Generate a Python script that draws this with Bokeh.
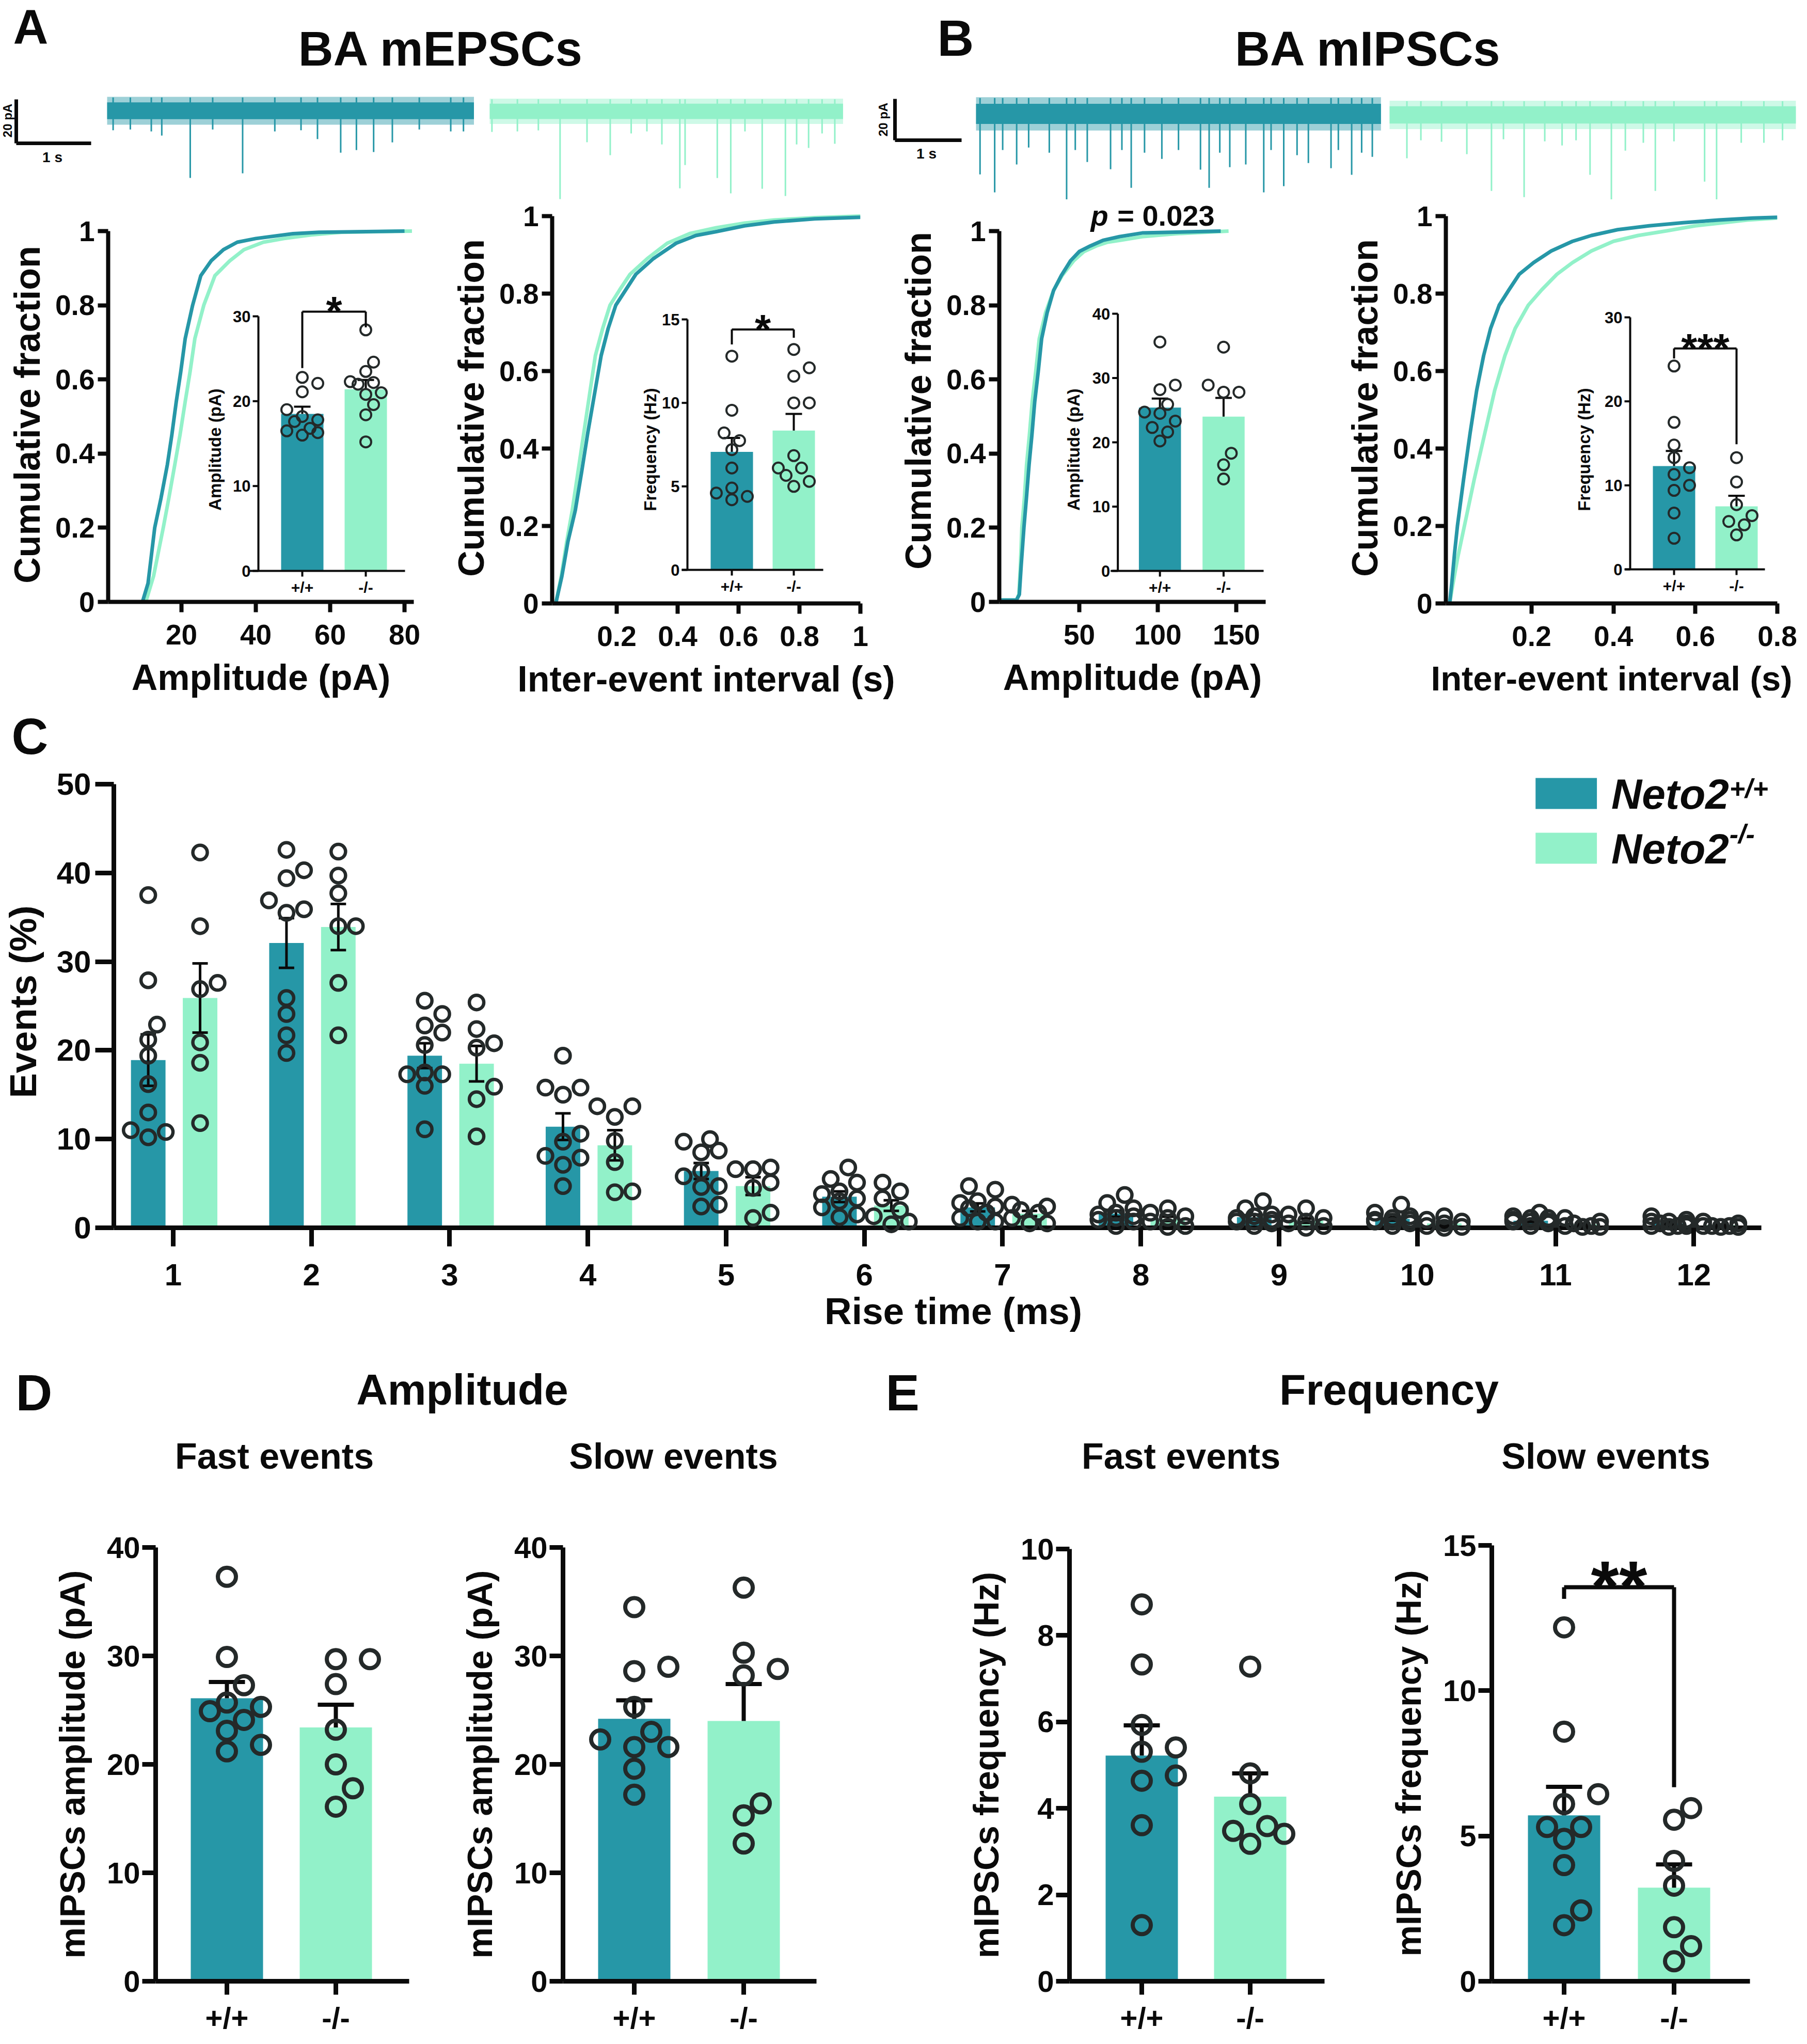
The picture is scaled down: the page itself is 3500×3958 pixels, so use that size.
import math
from bokeh.plotting import figure
from bokeh.models import Range1d, FixedTicker
from bokeh.layouts import column, row
from bokeh.embed import file_html
from bokeh.resources import INLINE
from bokeh.core.properties import value

FONT = "Liberation Sans"
FV = value(FONT)
WT = "#2697A7"
KO = "#92F1C9"
INK = "#0a0a0a"
DOT = "#242929"

# ======================= DATA =======================
genotypes = ["+/+", "-/-"]

# ---- example traces: event times (s) and amplitudes (pA) ----
mepsc_wt_dur = 4.9
mepsc_wt_band = 5.5
mepsc_wt_t = [0.08, 0.31, 0.59, 0.73, 1.11, 1.41, 1.81, 2.24, 2.59, 2.81, 3.12, 3.33, 3.56, 3.81, 4.17, 4.59, 4.76]
mepsc_wt_a = [8.9, 8.5, 9.4, 11.3, 30.6, 8.5, 28.5, 9.4, 8.9, 12.9, 19.1, 17.9, 18.8, 14.4, 8.5, 9.4, 9.4]
mepsc_ko_dur = 4.72
mepsc_ko_band = 5.0
mepsc_ko_t = [0.03, 0.37, 0.65, 0.94, 1.30, 1.61, 1.89, 2.10, 2.30, 2.54, 2.61, 3.04, 3.22, 3.41, 3.64, 3.95, 4.10, 4.26, 4.44, 4.61]
mepsc_ko_a = [9.4, 9.2, 8.7, 40.0, 14.1, 20.0, 10.1, 9.2, 15.1, 35.1, 24.5, 30.4, 37.4, 9.2, 35.3, 38.6, 15.1, 16.7, 10.1, 14.8]
mipsc_wt_dur = 6.08
mipsc_wt_band = 7.0
mipsc_wt_t = [0.06, 0.28, 0.40, 0.61, 0.79, 1.10, 1.36, 1.49, 1.67, 2.02, 2.19, 2.33, 2.53, 2.79, 3.04, 3.37, 3.50, 3.66,
              3.81, 4.05, 4.32, 4.43, 4.62, 4.82, 4.99, 5.33, 5.44, 5.64, 5.79, 5.95]
mipsc_wt_a = [29.3, 38.0, 17.5, 24.5, 16.3, 18.8, 48.0, 17.5, 23.3, 26.8, 17.5, 35.8, 18.8, 21.8, 17.5, 27.0, 35.8, 18.8,
              25.8, 24.5, 38.0, 17.5, 35.0, 20.0, 23.8, 26.3, 17.5, 29.5, 18.8, 20.8]
mipsc_ko_dur = 6.1
mipsc_ko_band = 6.0
mipsc_ko_t = [0.26, 0.47, 0.78, 1.16, 1.53, 1.71, 2.02, 2.33, 2.59, 2.80, 3.01, 3.33, 3.54, 3.81, 3.99, 4.27, 4.73, 4.91,
              5.28, 5.62, 5.90]
mipsc_ko_a = [21.0, 12.3, 13.0, 19.0, 36.8, 11.8, 39.8, 12.8, 14.8, 12.3, 29.0, 45.3, 17.3, 13.5, 36.8, 12.8, 32.3, 41.0,
              13.5, 13.5, 12.3]
scale_pA = 20
scale_s = 1

# ---- cumulative distributions ----
a_amp_wt_x = [0, 9.5, 11, 12.8, 14.5, 16.2, 17.4, 18.6, 19.8, 21, 23, 25.2, 28, 31.3, 35, 40, 50, 57, 80]
a_amp_wt_y = [0, 0, 0.05, 0.2, 0.28, 0.37, 0.45, 0.54, 0.62, 0.71, 0.8, 0.88, 0.92, 0.95, 0.97, 0.98, 0.993, 0.997, 1.0]
a_amp_ko_x = [0, 10.4, 12.5, 15.1, 16.6, 18.2, 19.6, 21, 22.3, 23.6, 26, 29, 33, 36.8, 42, 47.6, 55, 63, 82]
a_amp_ko_y = [0, 0, 0.07, 0.2, 0.28, 0.37, 0.45, 0.54, 0.62, 0.71, 0.8, 0.88, 0.92, 0.95, 0.97, 0.98, 0.99, 0.997, 1.0]
a_iei_wt_x = [0, 0.02, 0.04, 0.064, 0.085, 0.105, 0.127, 0.149, 0.172, 0.197, 0.23, 0.263, 0.32, 0.395, 0.46, 0.527, 0.62, 0.717, 0.85, 1.0]
a_iei_wt_y = [0, 0.07, 0.16, 0.24, 0.34, 0.44, 0.54, 0.64, 0.71, 0.77, 0.81, 0.85, 0.89, 0.93, 0.95, 0.96, 0.975, 0.985, 0.993, 0.997]
a_iei_ko_x = [0, 0.018, 0.036, 0.054, 0.073, 0.092, 0.111, 0.13, 0.154, 0.178, 0.21, 0.244, 0.3, 0.366, 0.44, 0.527, 0.62, 0.717, 0.85, 1.0]
a_iei_ko_y = [0, 0.07, 0.16, 0.24, 0.34, 0.44, 0.54, 0.64, 0.71, 0.77, 0.81, 0.85, 0.89, 0.93, 0.955, 0.97, 0.982, 0.99, 0.996, 1.0]
b_amp_wt_x = [0, 10, 11.8, 13, 14.7, 16.3, 18, 19.8, 21.6, 23.8, 26, 29.5, 33.6, 38.5, 44.4, 50, 57, 65, 75.5, 90, 140]
b_amp_wt_y = [0.005, 0.005, 0.02, 0.1, 0.2, 0.28, 0.37, 0.45, 0.54, 0.62, 0.71, 0.78, 0.84, 0.88, 0.92, 0.945, 0.96, 0.975, 0.985, 0.995, 1.0]
b_amp_ko_x = [0, 10, 11.5, 12.5, 13.4, 15, 16.4, 18.2, 20, 22.2, 24.5, 28.5, 33.6, 39, 46.4, 53, 60.8, 68, 75.5, 90, 112, 145]
b_amp_ko_y = [0.005, 0.005, 0.02, 0.1, 0.2, 0.28, 0.37, 0.45, 0.54, 0.62, 0.71, 0.78, 0.84, 0.88, 0.92, 0.945, 0.96, 0.97, 0.975, 0.985, 0.993, 1.0]
b_iei_wt_x = [0, 0.005, 0.012, 0.019, 0.034, 0.05, 0.066, 0.083, 0.1, 0.121, 0.145, 0.17, 0.205, 0.248, 0.3, 0.346, 0.41, 0.487, 0.57, 0.657, 0.74, 0.8]
b_iei_wt_y = [0, 0.05, 0.13, 0.2, 0.32, 0.44, 0.55, 0.64, 0.71, 0.77, 0.81, 0.85, 0.88, 0.91, 0.935, 0.95, 0.965, 0.975, 0.983, 0.99, 0.995, 0.997]
b_iei_ko_x = [0, 0.008, 0.02, 0.036, 0.06, 0.086, 0.11, 0.135, 0.16, 0.192, 0.225, 0.262, 0.3, 0.346, 0.4, 0.46, 0.53, 0.6, 0.66, 0.727, 0.8]
b_iei_ko_y = [0, 0.05, 0.12, 0.2, 0.32, 0.44, 0.55, 0.64, 0.71, 0.77, 0.81, 0.85, 0.88, 0.91, 0.935, 0.95, 0.962, 0.975, 0.982, 0.99, 0.995]

# ---- insets: per-cell values, means, SEM ----
ins_a_amp_wt = [22.8, 22.1, 21.1, 19.0, 18.2, 17.8, 17.6, 16.8, 16.5, 16.3, 16.0]
ins_a_amp_ko = [28.4, 24.6, 23.5, 22.3, 22.2, 22.0, 21.0, 20.8, 19.6, 18.4, 15.2]
ins_a_amp_mean = [18.5, 21.4]
ins_a_amp_sem = [0.85, 1.1]
ins_a_freq_wt = [12.8, 9.56, 8.2, 7.74, 7.2, 6.1, 4.9, 4.6, 4.4, 4.2]
ins_a_freq_ko = [13.2, 12.1, 11.6, 10.0, 10.0, 6.84, 6.1, 6.1, 5.66, 5.3, 5.0]
ins_a_freq_mean = [7.07, 8.34]
ins_a_freq_sem = [0.83, 1.0]
ins_b_amp_wt = [35.6, 28.9, 28.2, 25.9, 24.5, 24.7, 23.3, 22.3, 21.6, 20.2]
ins_b_amp_ko = [34.8, 28.9, 27.8, 27.8, 18.3, 16.5, 14.3]
ins_b_amp_mean = [25.4, 24.0]
ins_b_amp_sem = [1.4, 2.9]
ins_b_freq_wt = [24.2, 17.5, 14.8, 13.3, 12.1, 11.3, 10.0, 9.4, 6.7, 3.7]
ins_b_freq_ko = [13.3, 10.4, 7.7, 6.4, 5.7, 5.3, 4.1]
ins_b_freq_mean = [12.3, 7.5]
ins_b_freq_sem = [1.8, 1.26]

# ---- C: rise-time distribution (%) ----
rise_cats = [1, 2, 3, 4, 5, 6, 7, 8, 9, 10, 11, 12]
c_wt_mean = [18.9, 32.1, 19.4, 11.4, 6.4, 3.5, 2.3, 1.6, 1.2, 1.0, 0.8, 0.5]
c_ko_mean = [25.9, 33.9, 18.5, 9.3, 4.7, 2.5, 1.6, 1.0, 0.8, 0.5, 0.4, 0.3]
c_wt_sem = [2.9, 2.8, 1.4, 1.5, 0.9, 0.6, 0.45, 0.35, 0.3, 0.2, 0.15, 0.1]
c_ko_sem = [3.9, 2.6, 2.0, 1.7, 1.0, 0.6, 0.3, 0.25, 0.25, 0.15, 0.1, 0.08]
c_wt_pts = [
    [37.5, 27.9, 22.9, 21.2, 19.4, 16.2, 13.0, 11.0, 10.8, 10.2],
    [42.6, 40.3, 39.4, 36.9, 35.9, 35.5, 25.9, 24.1, 21.7, 19.7],
    [25.6, 24.1, 22.8, 22.0, 20.6, 17.5, 17.3, 17.3, 16.0, 11.1],
    [19.4, 15.8, 15.8, 15.0, 10.6, 9.7, 8.1, 7.9, 7.1, 4.7],
    [10.0, 9.7, 8.7, 8.5, 6.4, 5.8, 4.7, 4.6, 2.6, 2.4],
    [6.8, 5.5, 5.1, 4.1, 3.8, 3.3, 3.0, 2.3, 1.5, 1.2],
    [4.7, 4.3, 3.0, 2.8, 2.4, 2.2, 1.7, 1.1, 0.7, 0.7],
    [3.7, 2.8, 2.2, 1.7, 1.5, 1.3, 1.1, 0.9, 0.7, 0.2],
    [3.0, 2.2, 1.5, 1.3, 1.1, 0.9, 0.7, 0.7, 0.5, 0.2],
    [2.6, 1.7, 1.3, 1.1, 0.9, 0.9, 0.7, 0.7, 0.5, 0.2],
    [1.7, 1.3, 1.1, 1.1, 0.9, 0.7, 0.7, 0.7, 0.5, 0.2],
    [1.3, 0.9, 0.7, 0.7, 0.5, 0.5, 0.2, 0.2, 0.2, 0.1],
]
c_ko_pts = [
    [42.3, 34.0, 27.6, 26.9, 20.9, 18.6, 11.8],
    [42.4, 39.7, 37.7, 34.0, 34.0, 27.6, 21.7],
    [25.4, 22.4, 20.8, 20.3, 15.9, 14.5, 10.3],
    [13.7, 13.7, 12.5, 9.8, 7.4, 4.1, 4.0],
    [6.8, 6.6, 6.6, 5.1, 4.5, 1.7, 1.1],
    [5.1, 4.1, 3.3, 2.0, 1.3, 0.7, 0.4],
    [2.6, 2.4, 2.0, 1.7, 1.1, 0.5, 0.5],
    [2.2, 1.7, 1.3, 1.1, 0.7, 0.2, 0.1],
    [2.2, 1.5, 1.1, 0.7, 0.5, 0.2, 0.0],
    [1.3, 0.9, 0.7, 0.5, 0.2, 0.1, 0.0],
    [1.1, 0.7, 0.5, 0.2, 0.2, 0.1, 0.1],
    [0.7, 0.5, 0.2, 0.2, 0.2, 0.1, 0.1],
]

# ---- D / E: fast and slow events ----
d_fast_wt = [37.3, 29.9, 27.3, 25.7, 24.9, 25.3, 24.1, 23.1, 21.8, 21.2]
d_fast_ko = [29.7, 29.7, 27.4, 23.2, 20.0, 17.8, 16.1]
d_fast_mean = [26.1, 23.4]
d_fast_sem = [1.5, 2.1]
d_slow_wt = [34.5, 29.0, 28.6, 25.3, 22.3, 23.0, 21.6, 21.6, 19.6, 17.2]
d_slow_ko = [36.3, 30.3, 28.8, 28.2, 16.4, 15.3, 12.7]
d_slow_mean = [24.2, 24.0]
d_slow_sem = [1.7, 3.4]
e_fast_wt = [8.72, 7.33, 5.93, 5.31, 5.41, 4.64, 4.76, 3.61, 1.30]
e_fast_ko = [7.28, 4.81, 4.10, 3.59, 3.48, 3.41, 3.18]
e_fast_mean = [5.22, 4.27]
e_fast_sem = [0.70, 0.54]
e_slow_wt = [12.18, 8.59, 6.44, 6.10, 5.31, 5.31, 4.90, 4.00, 2.44, 1.93]
e_slow_ko = [5.96, 5.56, 4.14, 3.29, 1.86, 1.21, 0.69]
e_slow_mean = [5.71, 3.22]
e_slow_sem = [0.98, 0.80]


# ======================= HELPERS =======================
def lin(d0, p0, d1, p1):
    k = (d1 - d0) / (p1 - p0)
    return lambda q: d0 + (q - p0) * k


def base_fig(box, frame, xm, ym):
    fx, fy, fw, fh = box
    l, r, t, b = frame
    p = figure(width=fw, height=fh,
               x_range=Range1d(xm(l), xm(r)), y_range=Range1d(ym(b), ym(t)),
               min_border_left=l - fx, min_border_right=fx + fw - r,
               min_border_top=t - fy, min_border_bottom=fy + fh - b,
               output_backend="svg", toolbar_location=None, frame_align=False)
    p.outline_line_color = None
    p.xgrid.visible = False
    p.ygrid.visible = False
    return p


def canvas_fig(box):
    fx, fy, fw, fh = box
    p = figure(width=fw, height=fh, x_range=Range1d(fx, fx + fw), y_range=Range1d(fy + fh, fy),
               x_axis_location=None, y_axis_location=None, min_border=0,
               output_backend="svg", toolbar_location=None, frame_align=False)
    p.outline_line_color = None
    p.xgrid.visible = False
    p.ygrid.visible = False
    return p


def txt(p, x, y, s, size, align="left", base="middle", style="bold", angle=0.0, **kw):
    p.text(x=[x], y=[y], text=[s], text_font=FV, text_font_size=f"{size}px",
           text_font_style=style, text_align=align, text_baseline=base,
           angle=angle, text_color=INK, **kw)


def style_axes(p, tick_px, lab_px, lw, tout, std, lstd_x, lstd_y):
    for ax in list(p.xaxis) + list(p.yaxis):
        ax.axis_line_width = lw
        ax.axis_line_color = INK
        ax.major_tick_line_width = lw
        ax.major_tick_line_color = INK
        ax.major_tick_out = tout
        ax.major_tick_in = 0
        ax.minor_tick_line_color = None
        ax.major_label_text_font = FONT
        ax.major_label_text_font_style = "bold"
        ax.major_label_text_font_size = f"{tick_px}px"
        ax.major_label_text_color = INK
        ax.major_label_standoff = std
        ax.axis_label_text_font = FONT
        ax.axis_label_text_font_style = "bold"
        ax.axis_label_text_font_size = f"{lab_px}px"
        ax.axis_label_text_color = INK
    p.xaxis.axis_label_standoff = lstd_x
    p.yaxis.axis_label_standoff = lstd_y


def tick_labels(ticks):
    return {t: ("%g" % t) for t in ticks}


def swarm(vals, ypx, d, step, maxk):
    placed = []
    offs = [0.0] * len(vals)
    for i in sorted(range(len(vals)), key=lambda j: vals[j]):
        y = vals[i] * ypx
        cands = [0.0]
        for k in range(1, maxk + 1):
            cands += [k * step, -k * step]
        best, bs = 0.0, None
        for c in cands:
            s = sum(max(0.0, 0.9 * d - math.hypot(c - px, y - py)) for px, py in placed)
            if bs is None or s < bs - 1e-9:
                best, bs = c, s
            if s == 0:
                break
        placed.append((best, y))
        offs[i] = best
    return offs


# ======================= ROW 1: titles + traces =======================
R1_BOTTOM = 394
r1 = canvas_fig((8, 8, 3484, R1_BOTTOM - 8))
txt(r1, 33, 60, "A", 94)
txt(r1, 862, 102, "BA mEPSCs", 94, align="center")
txt(r1, 1823, 81, "B", 98)
txt(r1, 2658, 102, "BA mIPSCs", 94, align="center")


def trace(p, name, t, a, dur, band, color, t0, pps, cy, ppa):
    p.extra_x_ranges[name] = Range1d((8 - t0) / pps, (3492 - t0) / pps)
    p.extra_y_ranges[name] = Range1d((cy - R1_BOTTOM) / ppa, (cy - 8) / ppa)
    kw = dict(x_range_name=name, y_range_name=name)
    p.quad(left=[0], right=[dur], bottom=[-band * 1.15], top=[band * 1.15], fill_color=color,
           fill_alpha=0.45, line_color=None, **kw)
    p.quad(left=[0], right=[dur], bottom=[-band * 0.7], top=[band * 0.7], fill_color=color,
           line_color=None, **kw)
    p.segment(x0=t, y0=[band * 1.1] * len(t), x1=t, y1=[-v for v in a], line_color=color, line_width=3, **kw)
    return kw


kwA = trace(r1, "mwt", mepsc_wt_t, mepsc_wt_a, mepsc_wt_dur, mepsc_wt_band, WT, 215, 145, 222, 4.25)
trace(r1, "mko", mepsc_ko_t, mepsc_ko_a, mepsc_ko_dur, mepsc_ko_band, KO, 956, 145, 223, 4.25)
kwB = trace(r1, "iwt", mipsc_wt_t, mipsc_wt_a, mipsc_wt_dur, mipsc_wt_band, WT, 1898, 129, 228, 4.0)
trace(r1, "iko", mipsc_ko_t, mipsc_ko_a, mipsc_ko_dur, mipsc_ko_band, KO, 2699, 129, 230, 4.0)

for kw, t0, pps, cy, ppa, bx, by in ((kwA, 215, 145, 222, 4.25, 39, 285), (kwB, 1898, 129, 228, 4.0, 1741, 279)):
    tb = (bx - t0) / pps
    yb = (cy - by) / ppa
    r1.segment(x0=[tb, tb], y0=[yb, yb], x1=[tb, tb + scale_s], y1=[yb + scale_pA, yb],
               line_color=INK, line_width=7, **kw)
txt(r1, 22, 241, "20 pA", 24, align="center", angle=math.pi / 2)
txt(r1, 109, 312, "1 s", 28, align="center")
txt(r1, 1718, 239, "20 pA", 24, align="center", angle=math.pi / 2)
txt(r1, 1802, 305, "1 s", 28, align="center")


# ======================= ROW 2: cumulative plots with insets =======================
R2_H = 1370 - R1_BOTTOM


def cum_panel(box, frame, xm, ym, xticks, xlabel, wx, wy, kx, ky):
    p = base_fig(box, frame, xm, ym)
    p.line(x=kx, y=ky, line_color=KO, line_width=7, line_join="round")
    p.line(x=wx, y=wy, line_color=WT, line_width=7, line_join="round")
    style_axes(p, 55, 70, 8, 20, 24, 22, 12)
    p.yaxis.major_label_standoff = 6
    p.xaxis.ticker = FixedTicker(ticks=xticks)
    p.xaxis.major_label_overrides = tick_labels(xticks)
    yt = [0, 0.2, 0.4, 0.6, 0.8, 1.0]
    p.yaxis.ticker = FixedTicker(ticks=yt)
    p.yaxis.major_label_overrides = tick_labels(yt)
    p.yaxis.bounds = (0, 1)
    p.xaxis.axis_label = xlabel
    p.yaxis.axis_label = "Cumulative fraction"
    return p


def inset(p, tag, frame, cat_px, y0_px, ytop, ytop_px, axis_px, xl_px, xr_px, ticks,
          wt, ko, means, sems, ylabel, label_px, bracket=None):
    l, r, t, b = frame
    ux = lin(0, cat_px[0], 1, cat_px[1])
    vy = lin(0, y0_px, ytop, ytop_px)
    xn, yn = tag + "x", tag + "y"
    p.extra_x_ranges[xn] = Range1d(ux(l), ux(r))
    p.extra_y_ranges[yn] = Range1d(vy(b), vy(t))
    kw = dict(x_range_name=xn, y_range_name=yn)
    upp = 1.0 / (cat_px[1] - cat_px[0])
    vpp = ytop / (y0_px - ytop_px)
    ua = ux(axis_px)
    lw = 4
    p.vbar(x=[0, 1], top=means, width=82 * upp, fill_color=[WT, KO], line_color=None, **kw)
    tops = [m + s for m, s in zip(means, sems)]
    p.segment(x0=[0, 1], y0=means, x1=[0, 1], y1=tops, line_color=INK, line_width=lw, **kw)
    cw = 16 * upp
    p.segment(x0=[-cw, 1 - cw], y0=tops, x1=[cw, 1 + cw], y1=tops, line_color=INK, line_width=lw, **kw)
    d = 21
    for gi, vals in enumerate([wt, ko]):
        offs = swarm(vals, 1 / vpp, d + 4, 0.6 * (d + 4), 2)
        p.scatter(x=[gi + o * upp for o in offs], y=vals, marker="circle", size=d,
                  fill_color=None, line_color=DOT, line_width=4, **kw)
    p.segment(x0=[ua], y0=[0], x1=[ua], y1=[ticks[-1]], line_color=INK, line_width=lw, **kw)
    p.segment(x0=[ux(xl_px)], y0=[0], x1=[ux(xr_px)], y1=[0], line_color=INK, line_width=lw, **kw)
    n = len(ticks)
    p.segment(x0=[ua - 11 * upp] * n, y0=ticks, x1=[ua] * n, y1=ticks, line_color=INK, line_width=lw, **kw)
    p.text(x=[ua - 15 * upp] * n, y=ticks, text=[str(tk) for tk in ticks], text_font=FV,
           text_font_size="31px", text_font_style="bold", text_align="right", text_baseline="middle",
           text_color=INK, **kw)
    p.segment(x0=[0, 1], y0=[0, 0], x1=[0, 1], y1=[-11 * vpp] * 2, line_color=INK, line_width=lw, **kw)
    p.text(x=[0, 1], y=[-15 * vpp] * 2, text=genotypes, text_font=FV, text_font_size="30px",
           text_font_style="bold", text_align="center", text_baseline="top", text_color=INK, **kw)
    p.text(x=[ux(label_px)], y=[vy(878)], text=[ylabel], angle=math.pi / 2, text_font=FV,
           text_font_size="33px", text_font_style="bold", text_align="center", text_baseline="middle",
           text_color=INK, **kw)
    if bracket is not None:
        ybr, yl, yr, stars, fs = bracket
        p.segment(x0=[0, 0, 1], y0=[yl, ybr, ybr], x1=[0, 1, 1], y1=[ybr, ybr, yr],
                  line_color=INK, line_width=lw, **kw)
        p.text(x=[0.5], y=[ybr - (0.08 * fs - 7) * vpp], text=[stars], text_font=FV,
               text_font_size=f"{fs}px", text_font_style="bold", text_align="center",
               text_baseline="middle", text_color=INK, **kw)


fA1 = (217, 809, 448, 1173)
a1 = cum_panel((8, R1_BOTTOM, 842, R2_H), fA1, lin(0, 215, 80, 791), lin(0, 1173, 1, 455),
               [20, 40, 60, 80], "Amplitude (pA)", a_amp_wt_x, a_amp_wt_y, a_amp_ko_x, a_amp_ko_y)
inset(a1, "i", fA1, (593, 716), 1113, 30, 620, 508, 491, 792, [0, 10, 20, 30],
      ins_a_amp_wt, ins_a_amp_ko, ins_a_amp_mean, ins_a_amp_sem, "Amplitude (pA)", 424,
      bracket=(30.55, 23.9, 28.7, "*", 80))

fA2 = (1077, 1674, 419, 1176)
a2 = cum_panel((850, R1_BOTTOM, 895, R2_H), fA2, lin(0.2, 1202, 1.0, 1674), lin(0, 1176, 1, 426),
               [0.2, 0.4, 0.6, 0.8, 1.0], "Inter-event interval (s)", a_iei_wt_x, a_iei_wt_y, a_iei_ko_x, a_iei_ko_y)
inset(a2, "i", fA2, (1425, 1545), 1111, 15, 626, 1339, 1328, 1602, [0, 5, 10, 15],
      ins_a_freq_wt, ins_a_freq_ko, ins_a_freq_mean, ins_a_freq_sem, "Frequency (Hz)", 1267,
      bracket=(14.4, 13.5, 13.9, "*", 80))

fB1 = (1940, 2459, R1_BOTTOM, 1173)
xmB1 = lin(50, 2096, 150, 2402)
ymB1 = lin(0, 1173, 1, 455)
b1 = cum_panel((1745, R1_BOTTOM, 815, R2_H), fB1, xmB1, ymB1,
               [50, 100, 150], "Amplitude (pA)", b_amp_wt_x, b_amp_wt_y, b_amp_ko_x, b_amp_ko_y)
inset(b1, "i", fB1, (2253, 2377), 1113, 40, 615, 2171, 2157, 2455, [0, 10, 20, 30, 40],
      ins_b_amp_wt, ins_b_amp_ko, ins_b_amp_mean, ins_b_amp_sem, "Amplitude (pA)", 2085)
txt(b1, xmB1(2118), ymB1(425), "p", 56, style="bold italic")
txt(b1, xmB1(2170), ymB1(425), "= 0.023", 56)

fB2 = (2808, 3450, 419, 1176)
b2 = cum_panel((2560, R1_BOTTOM, 932, R2_H), fB2, lin(0.2, 2974, 0.8, 3450), lin(0, 1176, 1, 426),
               [0.2, 0.4, 0.6, 0.8], "Inter-event interval (s)", b_iei_wt_x, b_iei_wt_y, b_iei_ko_x, b_iei_ko_y)
b2.xaxis.axis_label_text_font_size = "67px"
inset(b2, "i", fB2, (3250, 3371), 1110, 30, 622, 3165, 3155, 3426, [0, 10, 20, 30],
      ins_b_freq_wt, ins_b_freq_ko, ins_b_freq_mean, ins_b_freq_sem, "Frequency (Hz)", 3076,
      bracket=(26.3, 25.1, 14.9, "***", 80))

# ======================= ROW 3: panel C =======================
c_strip = canvas_fig((8, 1370, 3484, 120))
txt(c_strip, 30, 1433, "C", 98)

xmC = lin(1, 338, 12, 3288)
ymC = lin(0, 2385, 50, 1526)
pc = base_fig((8, 1490, 3484, 1120), (223, 3480, 1490, 2405), xmC, ymC)
uppC = 11.0 / (3288 - 338)
vppC = 50.0 / (2385 - 1526)
wx = [c - 0.18 for c in rise_cats]
kx = [c + 0.195 for c in rise_cats]
pc.vbar(x=wx, top=c_wt_mean, width=0.25, fill_color=WT, line_color=None)
pc.vbar(x=kx, top=c_ko_mean, width=0.25, fill_color=KO, line_color=None)
for xs, m, s in ((wx, c_wt_mean, c_wt_sem), (kx, c_ko_mean, c_ko_sem)):
    lo = [a - e for a, e in zip(m, s)]
    hi = [a + e for a, e in zip(m, s)]
    cw = 15 * uppC
    pc.segment(x0=xs, y0=lo, x1=xs, y1=hi, line_color=INK, line_width=5)
    pc.segment(x0=[x - cw for x in xs], y0=hi, x1=[x + cw for x in xs], y1=hi, line_color=INK, line_width=5)
    pc.segment(x0=[x - cw for x in xs], y0=lo, x1=[x + cw for x in xs], y1=lo, line_color=INK, line_width=5)
# x-axis rule at y = 0 (the axis below carries ticks and labels)
pc.segment(x0=[xmC(223)], y0=[0], x1=[xmC(3419)], y1=[0], line_color=INK, line_width=9)
for xs, pts in ((wx, c_wt_pts), (kx, c_ko_pts)):
    X, Y = [], []
    for xc, vals in zip(xs, pts):
        offs = swarm(vals, 1 / vppC, 34, 17, 2)
        X += [xc + o * uppC for o in offs]
        Y += vals
    pc.scatter(x=X, y=Y, marker="circle", size=28, fill_color=None, line_color=DOT, line_width=6.5)
style_axes(pc, 60, 73, 9, 36, 34, 6, 22)
pc.yaxis.major_label_standoff = 8
pc.xaxis.axis_line_color = None
pc.xaxis.major_tick_in = 20
pc.xaxis.major_tick_out = 16
pc.xaxis.ticker = FixedTicker(ticks=rise_cats)
pc.yaxis.ticker = FixedTicker(ticks=[0, 10, 20, 30, 40, 50])
pc.yaxis.bounds = (0, 50)
pc.xaxis.axis_label = "Rise time (ms)"
pc.yaxis.axis_label = "Events (%)"
pc.quad(left=[xmC(2981)] * 2, right=[xmC(3100)] * 2, top=[ymC(1514), ymC(1620)],
        bottom=[ymC(1574), ymC(1680)], fill_color=[WT, KO], line_color=None)
txt(pc, xmC(3128), ymC(1545), "Neto2", 82, style="bold italic")
txt(pc, xmC(3357), ymC(1534), "+/+", 52, style="bold italic")
txt(pc, xmC(3128), ymC(1651), "Neto2", 82, style="bold italic")
txt(pc, xmC(3357), ymC(1622), "-/-", 52, style="bold italic")

# ======================= ROW 4: panels D & E =======================
de_strip = canvas_fig((8, 2610, 3484, 270))
txt(de_strip, 38, 2704, "D", 98)
txt(de_strip, 903, 2698, "Amplitude", 84, align="center")
txt(de_strip, 539, 2827, "Fast events", 70, align="center")
txt(de_strip, 1312, 2827, "Slow events", 70, align="center")
txt(de_strip, 1723, 2704, "E", 98)
txt(de_strip, 2698, 2698, "Frequency", 84, align="center")
txt(de_strip, 2295, 2827, "Fast events", 70, align="center")
txt(de_strip, 3118, 2827, "Slow events", 70, align="center")


def bar_panel(box, frame, cat_px, ytop, ticks, wt, ko, means, sems, ylabel, bracket=None):
    l, r, t, b = frame
    xm = lin(0, cat_px[0], 1, cat_px[1])
    ym = lin(0, b, ytop, t)
    p = base_fig(box, frame, xm, ym)
    upp = 1.0 / (cat_px[1] - cat_px[0])
    vpp = ytop / (b - t)
    p.vbar(x=[0, 1], top=means, width=140 * upp, fill_color=[WT, KO], line_color=None)
    tops = [m + s for m, s in zip(means, sems)]
    p.segment(x0=[0, 1], y0=means, x1=[0, 1], y1=tops, line_color=INK, line_width=8)
    cw = 35 * upp
    p.segment(x0=[-cw, 1 - cw], y0=tops, x1=[cw, 1 + cw], y1=tops, line_color=INK, line_width=8)
    for gi, vals in enumerate([wt, ko]):
        offs = swarm(vals, 1 / vpp, 43, 33, 2)
        p.scatter(x=[gi + o * upp for o in offs], y=vals, marker="circle", size=35,
                  fill_color=None, line_color=DOT, line_width=8)
    if bracket is not None:
        ybr, yl, yr, stars, fs = bracket
        p.segment(x0=[0, 0, 1], y0=[yl, ybr, ybr], x1=[0, 1, 1], y1=[ybr, ybr, yr],
                  line_color=INK, line_width=8)
        p.text(x=[0.5], y=[ybr - (0.08 * fs - 13) * vpp], text=[stars], text_font=FV,
               text_font_size=f"{fs}px", text_font_style="bold", text_align="center",
               text_baseline="middle", text_color=INK)
    style_axes(p, 58, 68, 9, 26, 12, 10, 26)
    p.yaxis.major_label_standoff = 4
    p.xaxis.ticker = FixedTicker(ticks=[0, 1])
    p.xaxis.major_label_overrides = {0: genotypes[0], 1: genotypes[1]}
    p.yaxis.ticker = FixedTicker(ticks=ticks)
    p.yaxis.bounds = (0, ytop)
    p.yaxis.axis_label = ylabel
    return p


d1 = bar_panel((8, 2880, 872, 1070), (309, 800, 3004, 3847), (447, 658), 40, [0, 10, 20, 30, 40],
               d_fast_wt, d_fast_ko, d_fast_mean, d_fast_sem, "mIPSCs amplitude (pA)")
d2 = bar_panel((880, 2880, 820, 1070), (1098, 1589, 3004, 3847), (1236, 1448), 40, [0, 10, 20, 30, 40],
               d_slow_wt, d_slow_ko, d_slow_mean, d_slow_sem, "mIPSCs amplitude (pA)")
e1 = bar_panel((1700, 2880, 950, 1070), (2079, 2573, 3007, 3851), (2219, 2429), 10, [0, 2, 4, 6, 8, 10],
               e_fast_wt, e_fast_ko, e_fast_mean, e_fast_sem, "mIPSCs frequency (Hz)")
e2 = bar_panel((2650, 2880, 842, 1070), (2897, 3397, 3000, 3855), (3037, 3250), 15, [0, 5, 10, 15],
               e_slow_wt, e_slow_ko, e_slow_mean, e_slow_sem, "mIPSCs frequency (Hz)",
               bracket=(13.56, 13.16, 6.68, "**", 140))

layout = column(r1, row(a1, a2, b1, b2), c_strip, pc, de_strip, row(d1, d2, e1, e2))
open("out.html", "w").write(file_html(layout, INLINE, title="Neto2 BA mEPSCs / mIPSCs"))
